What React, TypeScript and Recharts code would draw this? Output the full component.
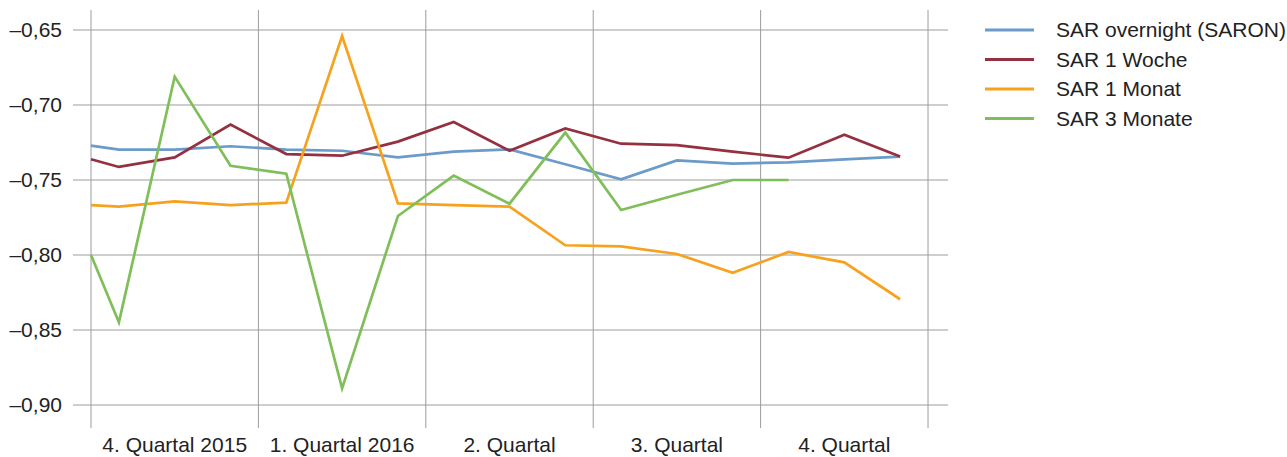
import React from 'react';
import { LineChart, Line, XAxis, YAxis, ReferenceLine } from 'recharts';

// months since 1 Oct 2015 (first point = start of period, then mid-month values)
const months = [0, 0.5, 1.5, 2.5, 3.5, 4.5, 5.5, 6.5, 7.5, 8.5, 9.5, 10.5, 11.5, 12.5, 13.5, 14.5];
const saron = [-0.7271, -0.7298, -0.7298, -0.7275, -0.7297, -0.7305, -0.7349, -0.7311, -0.7296, -0.7395, -0.7496, -0.7369, -0.7391, -0.7382, -0.7362, -0.7344];
const woche1 = [-0.7362, -0.7413, -0.7349, -0.7131, -0.7327, -0.7338, -0.7244, -0.7113, -0.7305, -0.7156, -0.7258, -0.7267, -0.7311, -0.7351, -0.7198, -0.7344];
const monat1 = [-0.7667, -0.7678, -0.7642, -0.7667, -0.7651, -0.654, -0.7656, -0.7667, -0.7678, -0.7935, -0.7942, -0.7993, -0.8118, -0.798, -0.8049, -0.8295];
const monate3 = [-0.8, -0.8449, -0.6811, -0.7405, -0.7458, -0.8889, -0.774, -0.7471, -0.7658, -0.7184, -0.77, -0.7598, -0.75, -0.75, null, null];

const quarterTicks = [0, 3, 6, 9, 12, 15];
const quarterLabels = ['4. Quartal 2015', '1. Quartal 2016', '2. Quartal', '3. Quartal', '4. Quartal'];
const yTicks = [-0.9, -0.85, -0.8, -0.75, -0.7, -0.65];

const seriesKeys = ['saron', 'woche1', 'monat1', 'monate3'];
const seriesNames = ['SAR overnight (SARON)', 'SAR 1 Woche', 'SAR 1 Monat', 'SAR 3 Monate'];
const colors = ['#6b9bc8', '#943040', '#f7a21e', '#80be5a'];

const data = months.map((m, i) => ({
  t: m,
  saron: saron[i],
  woche1: woche1[i],
  monat1: monat1[i],
  monate3: monate3[i],
}));

const FONT = '"Liberation Sans", Arial, sans-serif';
const TEXT = '#222222';
const GRID = '#9c9c9c';
const FS = 21;

const X_DOMAIN: [number, number] = [-0.3226, 15.358];
const PLOT_W = 875;
const PX_PER_MONTH = PLOT_W / (X_DOMAIN[1] - X_DOMAIN[0]);

const XTick = (props: any) => {
  const { x, index } = props;
  const label = quarterLabels[index];
  if (!label) return null;
  return (
    <text x={x + 1.5 * PX_PER_MONTH} y={452} textAnchor="middle" fontFamily={FONT} fontSize={FS} fill={TEXT}>
      {label}
    </text>
  );
};

const YTick = (props: any) => {
  const { x, y, payload } = props;
  const v = payload.value as number;
  const s = (v < 0 ? '–' : '') + Math.abs(v).toFixed(2).replace('.', ',');
  return (
    <text x={x} y={y + 7} textAnchor="end" fontFamily={FONT} fontSize={FS} fill={TEXT}>
      {s}
    </text>
  );
};

const LegendBox = () => (
  <svg width={312} height={130} style={{ position: 'absolute', left: 975, top: 10, display: 'block' }}>
    {seriesNames.map((name, i) => {
      const y = 20 + i * 29.5;
      return (
        <g key={name}>
          <line x1={10} x2={59} y1={y} y2={y} stroke={colors[i]} strokeWidth={3} />
          <text x={81} y={y + 7} fontFamily={FONT} fontSize={FS} fill={TEXT}>
            {name}
          </text>
        </g>
      );
    })}
  </svg>
);

export default function App() {
  return (
    <div style={{ position: 'absolute', left: 0, top: 0, width: 1287, height: 457, background: '#fff' }}>
      <LineChart width={1287} height={457} data={data} margin={{ top: 10, right: 339, bottom: 0, left: 0 }}>
        <XAxis
          dataKey="t"
          type="number"
          domain={X_DOMAIN}
          ticks={quarterTicks}
          allowDataOverflow
          axisLine={false}
          tickLine={false}
          height={29}
          tick={<XTick />}
          interval={0}
        />
        <YAxis
          type="number"
          domain={[-0.915333, -0.636667]}
          ticks={yTicks}
          allowDataOverflow
          axisLine={false}
          tickLine={false}
          tickSize={0}
          tickMargin={11}
          width={73}
          tick={<YTick />}
          interval={0}
        />
        {yTicks.map((v) => (
          <ReferenceLine key={'y' + v} y={v} stroke={GRID} strokeWidth={1} ifOverflow="visible" />
        ))}
        {quarterTicks.map((v) => (
          <ReferenceLine key={'x' + v} x={v} stroke={GRID} strokeWidth={1} ifOverflow="visible" />
        ))}
        {seriesKeys.map((k, i) => (
          <Line
            key={k}
            type="linear"
            dataKey={k}
            name={seriesNames[i]}
            stroke={colors[i]}
            strokeWidth={2.7}
            dot={false}
            activeDot={false}
            isAnimationActive={false}
            connectNulls={false}
          />
        ))}
      </LineChart>
      <LegendBox />
    </div>
  );
}
